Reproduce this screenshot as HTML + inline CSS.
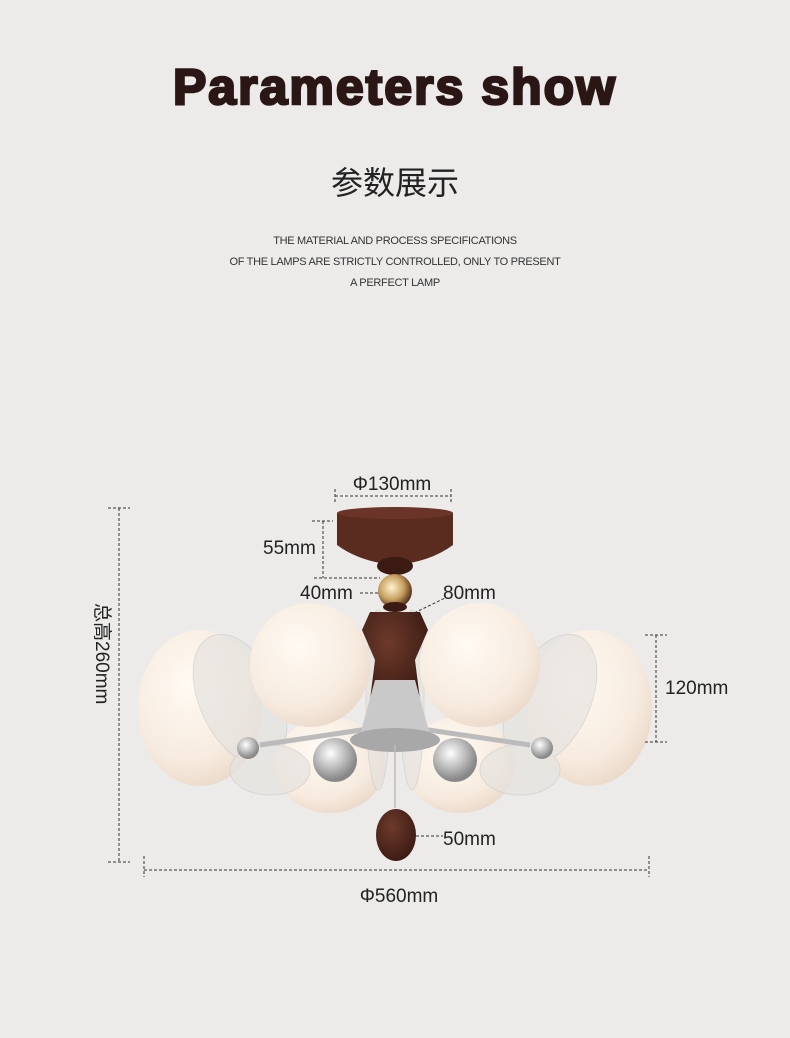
<!DOCTYPE html>
<html><head><meta charset="utf-8"><style>
html,body{margin:0;padding:0;}
body{width:790px;height:1038px;background:#ecebea;overflow:hidden;position:relative;font-family:"Liberation Sans","Noto Sans CJK SC",sans-serif;}
.t{position:absolute;left:0;width:790px;text-align:center;}
</style></head><body>
<div class="t" style="top:58px;font-size:50px;font-weight:bold;color:#2a1614;-webkit-text-stroke:2.5px #2a1614;letter-spacing:2px;">Parameters show</div>
<div class="t" style="top:158px;font-size:32px;color:#222;">参数展示</div>
<div class="t" style="top:231px;font-size:11px;color:#333;line-height:21px;letter-spacing:-0.3px;">THE MATERIAL AND PROCESS SPECIFICATIONS<br>OF THE LAMPS ARE STRICTLY CONTROLLED, ONLY TO PRESENT<br>A PERFECT LAMP</div>
<svg width="790" height="1038" style="position:absolute;left:0;top:0" font-family="Liberation Sans, Noto Sans CJK SC, sans-serif">
<defs>
<radialGradient id="g" cx="40%" cy="35%" r="70%"><stop offset="0" stop-color="#fffaf3"/><stop offset="0.7" stop-color="#f7ebdf"/><stop offset="1" stop-color="#e9d8c8"/></radialGradient>
<radialGradient id="w" cx="40%" cy="35%" r="70%"><stop offset="0" stop-color="#6e3a2c"/><stop offset="1" stop-color="#3a1a12"/></radialGradient>
<radialGradient id="au" cx="40%" cy="40%" r="60%"><stop offset="0" stop-color="#fff4d0"/><stop offset="0.6" stop-color="#c8a060"/><stop offset="1" stop-color="#5a3a20"/></radialGradient>
<radialGradient id="cr" cx="40%" cy="35%" r="60%"><stop offset="0" stop-color="#fff"/><stop offset="1" stop-color="#888"/></radialGradient>
</defs>
<ellipse cx="200" cy="708" rx="62" ry="78" fill="url(#g)"/>
<ellipse cx="590" cy="708" rx="62" ry="78" fill="url(#g)"/>
<ellipse cx="330" cy="765" rx="55" ry="48" fill="url(#g)"/>
<ellipse cx="460" cy="765" rx="55" ry="48" fill="url(#g)"/>
<g fill="#e6e3e0" stroke="#d2cfcc" stroke-width="1" opacity="0.7">
<ellipse cx="240" cy="700" rx="40" ry="70" transform="rotate(-25 240 700)"/>
<ellipse cx="550" cy="700" rx="40" ry="70" transform="rotate(25 550 700)"/>
<ellipse cx="270" cy="770" rx="40" ry="25"/>
<ellipse cx="520" cy="770" rx="40" ry="25"/>
<ellipse cx="378" cy="700" rx="12" ry="90"/>
<ellipse cx="412" cy="700" rx="12" ry="90"/>
</g>
<g stroke="#bbb" stroke-width="5"><line x1="260" y1="745" x2="395" y2="725"/><line x1="530" y1="745" x2="395" y2="725"/></g>
<circle cx="248" cy="748" r="11" fill="url(#cr)"/><circle cx="542" cy="748" r="11" fill="url(#cr)"/>
<circle cx="335" cy="760" r="22" fill="url(#cr)"/><circle cx="455" cy="760" r="22" fill="url(#cr)"/>
<path d="M370 612 L420 612 L428 630 L415 660 L420 700 L370 700 L375 660 L362 630 Z" fill="url(#w)"/>
<path d="M375 680 L415 680 L430 735 L360 735Z" fill="#c9c9c9"/>
<ellipse cx="395" cy="740" rx="45" ry="12" fill="#a8a8a8"/>
<ellipse cx="310" cy="665" rx="60" ry="62" fill="url(#g)"/>
<ellipse cx="480" cy="665" rx="60" ry="62" fill="url(#g)"/>
<path d="M337 513 L453 513 L453 545 Q430 562 395 565 Q360 562 337 545 Z" fill="#5a2c20"/>
<ellipse cx="395" cy="513" rx="58" ry="6" fill="#6a3528"/>
<ellipse cx="395" cy="566" rx="18" ry="9" fill="#3a1a12"/>
<circle cx="395" cy="591" r="17" fill="url(#au)"/>
<ellipse cx="395" cy="607" rx="12" ry="5" fill="#3a1a12"/>
<line x1="395" y1="745" x2="395" y2="808" stroke="#bbb" stroke-width="1.5"/>
<ellipse cx="396" cy="835" rx="20" ry="26" fill="url(#w)"/>
<g stroke="#333" stroke-width="1" stroke-dasharray="3,2" fill="none">
<line x1="335" y1="496" x2="451" y2="496"/><line x1="335" y1="489" x2="335" y2="503"/><line x1="451" y1="489" x2="451" y2="503"/>
<line x1="312" y1="521" x2="333" y2="521"/><line x1="323" y1="521" x2="323" y2="578"/><line x1="314" y1="578" x2="380" y2="578"/>
<line x1="360" y1="593" x2="378" y2="593"/>
<line x1="410" y1="615" x2="445" y2="598"/>
<line x1="108" y1="508" x2="130" y2="508"/><line x1="119" y1="508" x2="119" y2="862"/><line x1="108" y1="862" x2="130" y2="862"/>
<line x1="144" y1="870" x2="649" y2="870"/><line x1="144" y1="856" x2="144" y2="877"/><line x1="649" y1="856" x2="649" y2="877"/>
<line x1="645" y1="635" x2="667" y2="635"/><line x1="656" y1="635" x2="656" y2="742"/><line x1="645" y1="742" x2="667" y2="742"/>
<line x1="416" y1="836" x2="443" y2="836"/>
</g>
<g font-size="19" fill="#222">
<text x="392" y="490" text-anchor="middle">Φ130mm</text>
<text x="263" y="554">55mm</text>
<text x="300" y="599">40mm</text>
<text x="443" y="599">80mm</text>
<text x="665" y="694">120mm</text>
<text x="443" y="845">50mm</text>
<text x="399" y="902" text-anchor="middle">Φ560mm</text>
<text x="0" y="0" transform="translate(96,603) rotate(90)">总高260mm</text>
</g>
</svg>
</body></html>
